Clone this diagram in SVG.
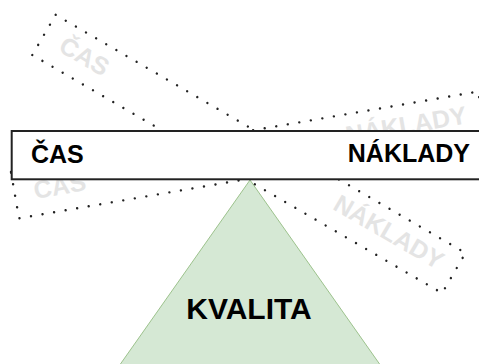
<svg xmlns="http://www.w3.org/2000/svg" width="479" height="364" viewBox="0 0 479 364">
  <style>
    .ghost { fill: none; stroke: #222; stroke-width: 2.4; stroke-linecap: round; stroke-dasharray: 0 11.7; }
    .ghost-label { font-family: "Liberation Sans", Arial, sans-serif; font-weight: bold; font-size: 25px; fill: #e4e4e4; }
    .label { font-family: "Liberation Sans", Arial, sans-serif; font-weight: bold; font-size: 25px; fill: #000; }
    .beam { fill: #fff; stroke: #222; stroke-width: 2; }
    .fulcrum { fill: #d5e8d4; stroke: #9cc28c; stroke-width: 1; }
  </style>

  <!-- fulcrum -->
  <g id="kvalita">
    <polygon class="fulcrum" points="250,180 112,376 388,376"/>
    <text class="label" x="249" y="319" text-anchor="middle" font-size="30" style="font-size:30px">KVALITA</text>
  </g>

  <!-- tilted beam positions -->
  <g id="connectors">
    <g id="tilt-left-up" transform="translate(32.3,55) rotate(30.16)">
      <rect class="ghost" x="0" y="-46.5" width="474" height="46.5"/>
      <text class="ghost-label" x="19.3" y="-16.5">ČAS</text>
      <text class="ghost-label" x="458.3" y="-17.6" text-anchor="end">NÁKLADY</text>
    </g>
    <g id="tilt-right-up" transform="translate(19,218.3) rotate(-9.77)">
      <rect class="ghost" x="0" y="-47" width="474" height="47"/>
      <text class="ghost-label" x="19.3" y="-16.3">ČAS</text>
      <text class="ghost-label" x="458.3" y="-17.6" text-anchor="end">NÁKLADY</text>
    </g>
  </g>

  <!-- balanced beam -->
  <g id="beam">
    <rect class="beam" x="11.7" y="131" width="474" height="48.3"/>
    <text class="label" x="31" y="163">ČAS</text>
    <text class="label" x="470" y="162" text-anchor="end">NÁKLADY</text>
  </g>
</svg>
